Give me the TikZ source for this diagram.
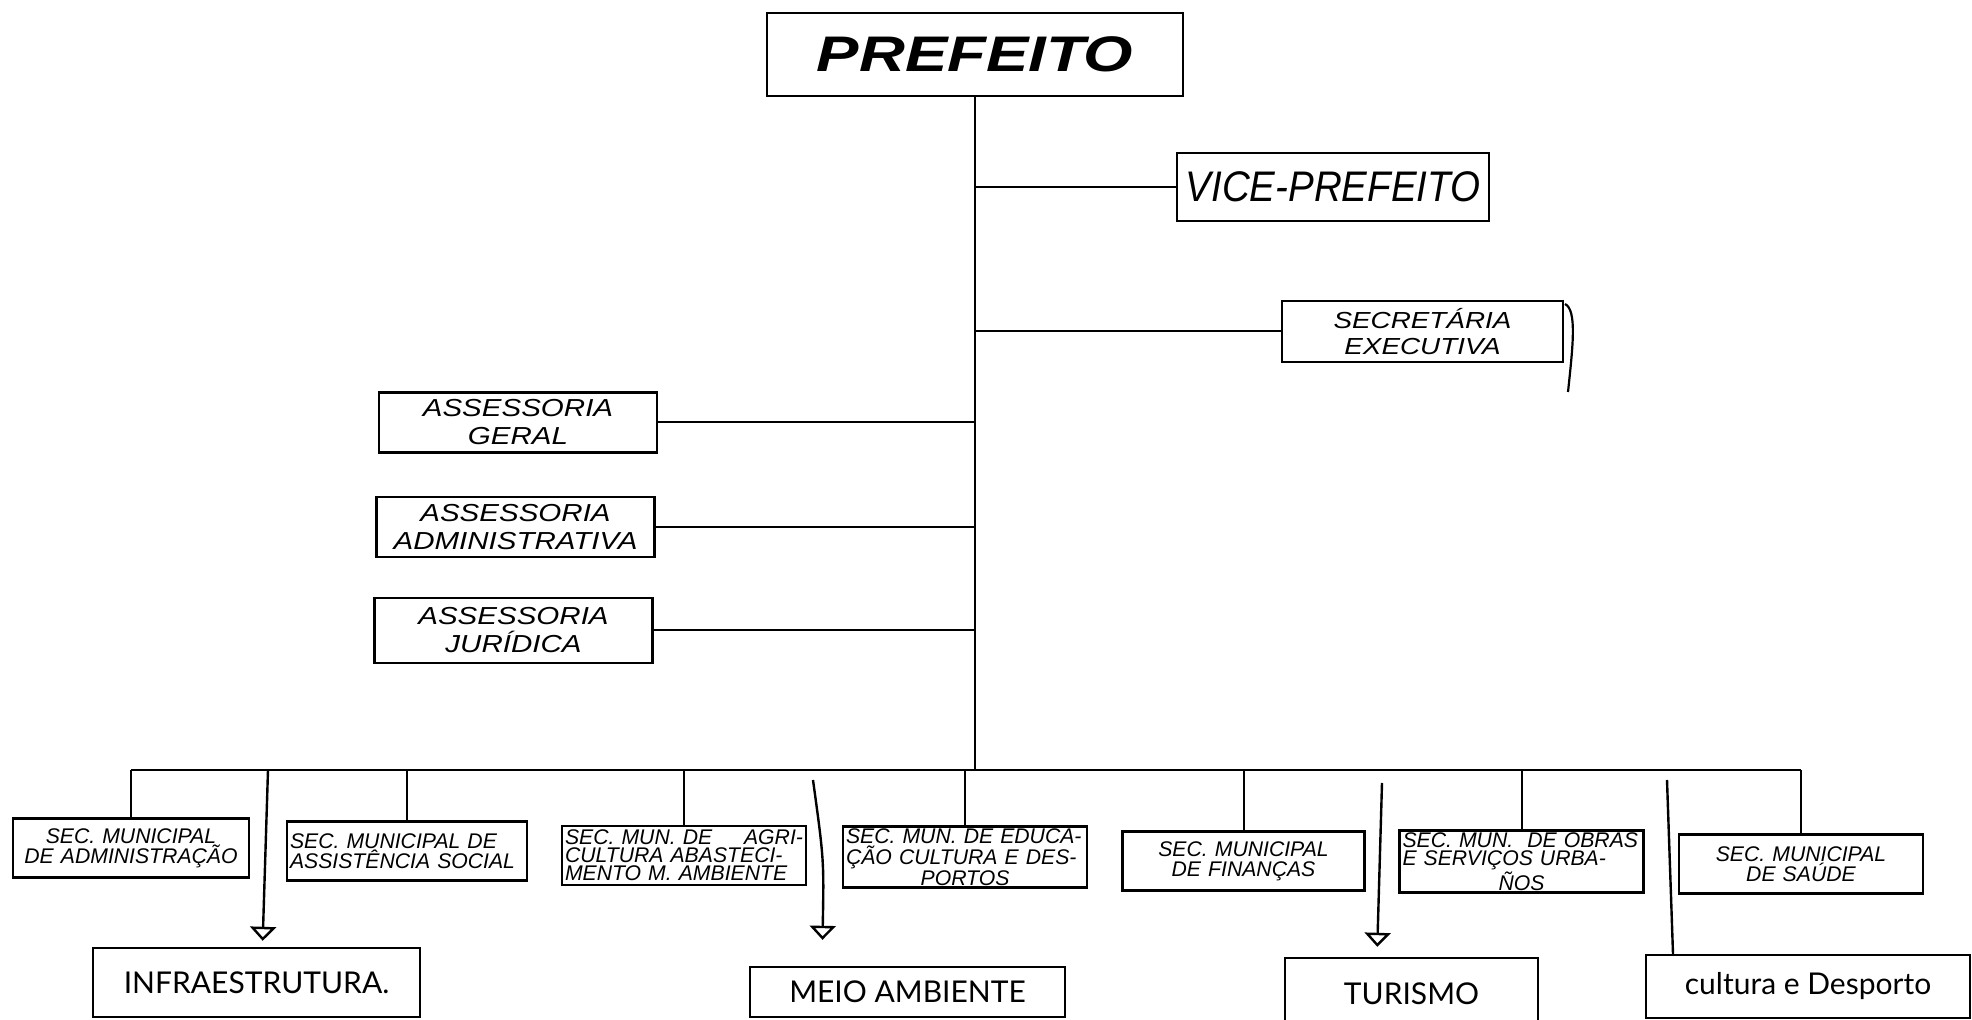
\documentclass[tikz,border=0pt]{standalone}
\usepackage{fontspec}
\setmainfont{Liberation Sans}
\newfontfamily\prefont{Liberation Sans}[FakeStretch=1.27]
\newfontfamily\widefont{Liberation Sans}[FakeStretch=1.2]
\newfontfamily\narrowfont{Liberation Sans}[FakeStretch=0.9]
\newfontfamily\handfont{Lato}
\usetikzlibrary{arrows.meta}
\newcommand{\jl}[1]{\makebox[\hsize][s]{#1}}

\begin{document}
\begin{tikzpicture}[x=0.5pt, y=-0.5pt, line width=1pt,
    orgbox/.style={draw, line width=1.1pt, inner sep=1pt, align=center},
    assbox/.style={orgbox, minimum width=139pt, minimum height=30pt, font=\widefont\itshape\fontsize{12.3}{14}\selectfont},
    secbox/.style={orgbox, text width=#1, inner xsep=1.5pt, minimum height=29.5pt, font=\itshape\fontsize{10.6}{9}\selectfont},
    secbox/.default=119pt,
    sectwo/.style={secbox=#1, font=\itshape\fontsize{10.6}{10}\selectfont},
    sectwo/.default=119pt,
    handbox/.style={draw, line width=1.2pt, inner sep=2pt, font=\handfont\fontsize{15}{15}\selectfont},
    handarrow/.style={line width=1.2pt, -{Triangle[open, length=7pt, width=13pt]}}]
  \useasboundingbox (0,0) rectangle (1972,1020);

  \node[orgbox, minimum width=208pt, minimum height=41.5pt, font=\prefont\bfseries\itshape\fontsize{25}{25}\selectfont] (pref) at (975,54.5) {PREFEITO};
  \node[orgbox, minimum width=156pt, minimum height=34pt, font=\narrowfont\itshape\fontsize{21.4}{22}\selectfont] (vice) at (1333,187) {VICE-PREFEITO};
  \node[orgbox, minimum width=140.5pt, minimum height=30.5pt, font=\widefont\itshape\fontsize{11.6}{13}\selectfont] (secex) at (1422.5,331.5) {SECRETÁRIA\\EXECUTIVA};
  \node[assbox] (ageral) at (518,422.5) {ASSESSORIA\\GERAL};
  \node[assbox] (aadm) at (515.5,527) {ASSESSORIA\\ADMINISTRATIVA};
  \node[assbox, minimum height=32.5pt] (ajur) at (513.5,630.5) {ASSESSORIA\\JURÍDICA};

  \node[sectwo=115pt] (sadm) at (131,848) {SEC. MUNICIPAL\\DE ADMINISTRAÇÃO};
  \node[sectwo=117pt] (sasoc) at (407,851) {\jl{SEC. MUNICIPAL DE}\\\jl{ASSISTÊNCIA SOCIAL}};
  \node[secbox] (sagri) at (684,855.5) {\jl{SEC. MUN. DE\hfill AGRI-}\\\jl{CULTURA ABASTECI-}\\\jl{MENTO M. AMBIENTE}};
  \node[secbox] (seduc) at (965,857) {\jl{SEC. MUN. DE EDUCA-}\\\jl{ÇÃO CULTURA E DES-}\\PORTOS};
  \node[sectwo=118pt] (sfin) at (1243.5,861) {SEC. MUNICIPAL\\DE FINANÇAS};
  \node[secbox] (sobras) at (1521.5,861.5) {\jl{SEC. MUN.\ \ DE OBRAS}\\\jl{E SERVIÇOS URBA-}\\ÑOS};
  \node[sectwo] (ssaude) at (1801,864) {SEC. MUNICIPAL\\DE SAÚDE};

  \node[handbox, minimum width=163.5pt, minimum height=34.5pt] (infra) at (256.5,982.5) {INFRAESTRUTURA.};
  \node[handbox, minimum width=157.5pt, minimum height=25pt] (meio) at (907.5,992) {MEIO AMBIENTE};
  \node[handbox, minimum width=126.5pt, minimum height=36pt] (tur) at (1411.5,994) {TURISMO};
  \node[handbox, minimum width=162pt, minimum height=31.5pt] (cult) at (1808,986.5) {cultura e Desporto};

  \coordinate (busL) at (131,770);
  \coordinate (busR) at (1801,770);
  \draw (busL) -- (busR);
  \draw (pref.south) -- (pref.south |- busL);
  \foreach \b in {vice,secex}
    \draw (\b.west) -- (\b.west -| pref.south);
  \foreach \b in {ageral,aadm,ajur}
    \draw (\b.east) -- (\b.east -| pref.south);
  \foreach \b in {sadm,sasoc,sagri,seduc,sfin,sobras,ssaude}
    \draw (\b.north) -- (\b.north |- busL);

  \coordinate (h1) at (268,770);
  \coordinate (h2) at (813,780);
  \coordinate (h3) at (1382,783);
  \coordinate (h4) at (1667,780);
  \draw[handarrow, shorten >=3pt] (h1) -- ([xshift=3pt]infra.north);
  \draw[handarrow, shorten >=13pt] (h2) .. controls (824,860) .. ([xshift=-42.75pt]meio.north);
  \draw[handarrow, shorten >=5pt] (h3) -- ([xshift=-17.25pt]tur.north);
  \draw[line width=1.2pt] (h4) -- ([xshift=-67.5pt]cult.north);
  \draw[line width=1.1pt] (1565,304) .. controls (1577,310) and (1573,345) .. (1568,392);
\end{tikzpicture}
\end{document}
